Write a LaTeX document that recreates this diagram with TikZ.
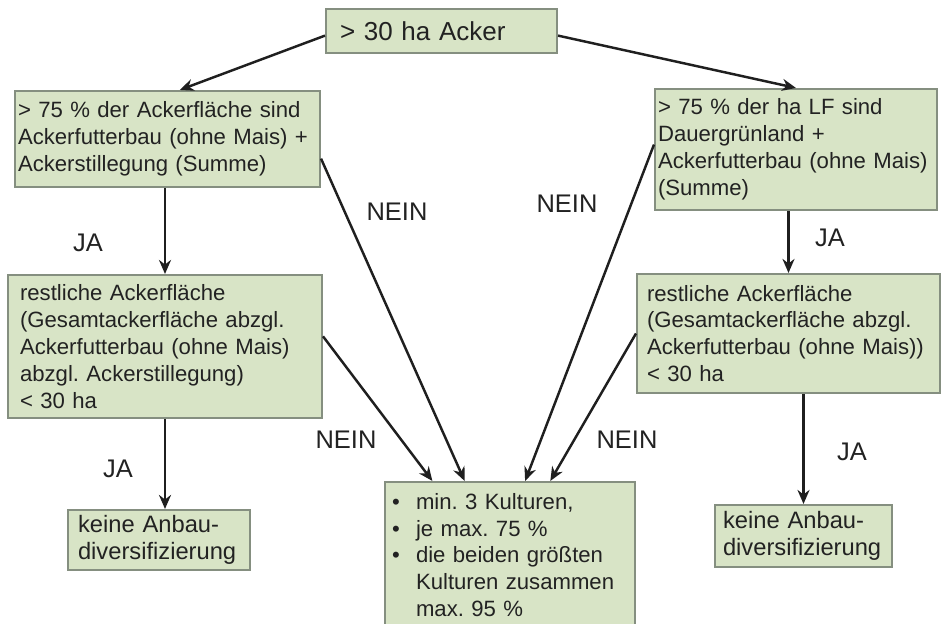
\documentclass[tikz,border=0pt]{standalone}
\usepackage{fontspec}
\setmainfont{Liberation Sans}
\usepackage{tikz}
\usetikzlibrary{arrows.meta,calc}
\definecolor{feld}{HTML}{D8E4C6}
\definecolor{rand}{HTML}{858F80}
\definecolor{schrift}{HTML}{222222}
\frenchspacing

\begin{document}
\begin{tikzpicture}[x=0.02cm,y=-0.02cm,
  kasten/.style={draw=rand,fill=feld,line width=1.2pt,align=left,text=schrift,inner ysep=0pt,inner xsep=0.06cm,font=\fontsize{12.6}{15.3}\selectfont},
  pfeil/.style={-{Stealth[length=0.28cm,width=0.24cm]},line width=1.4pt,draw=black!88},
  antwort/.style={font=\fontsize{14.5}{17}\selectfont,text=schrift}]
  \fill[white] (0,0) rectangle (944,623);
  \useasboundingbox (0,0) rectangle (944,623);
  \clip (0,0) rectangle (944,623);

  \node[kasten,font=\fontsize{14.8}{17}\selectfont,inner xsep=0.28cm,text width=4.06cm,minimum height=0.88cm] (acker) at (441.5,31) {> 30 ha Acker};

  \node[kasten,text width=5.98cm,minimum height=1.92cm] (links1) at (167.5,139) {> 75 \% der Ackerfläche sind\\Ackerfutterbau (ohne Mais) +\\Ackerstillegung (Summe)};
  \node[kasten,text width=5.52cm,minimum height=2.42cm] (rechts1) at (796,149.5) {> 75 \% der ha LF sind\\Dauergrünland +\\Ackerfutterbau (ohne Mais)\\(Summe)};

  \node[kasten,inner xsep=0.24cm,text width=5.8cm,minimum height=2.86cm] (links2) at (165,346.5) {restliche Ackerfläche\\(Gesamtackerfläche abzgl.\\Ackerfutterbau (ohne Mais)\\abzgl. Ackerstillegung)\\< 30 ha};
  \node[kasten,inner xsep=0.2cm,text width=5.66cm,minimum height=2.38cm] (rechts2) at (788.5,333.5) {restliche Ackerfläche\\(Gesamtackerfläche abzgl.\\Ackerfutterbau (ohne Mais))\\< 30 ha};

  \node[kasten,font=\fontsize{13.5}{15.5}\selectfont,inner xsep=0.2cm,text width=3.24cm,minimum height=1.2cm] (keine1) at (159,540) {keine Anbau-\\diversifizierung};
  \node[kasten,font=\fontsize{13.5}{15.5}\selectfont,inner xsep=0.16cm,text width=3.22cm,minimum height=1.24cm] (keine2) at (803.5,536) {keine Anbau-\\diversifizierung};
  \node[kasten,inner xsep=0.14cm,text width=4.72cm,minimum height=2.92cm] (kulturen) at (510,555) {\makebox[0.48cm][l]{\textbullet}min. 3 Kulturen,\\\makebox[0.48cm][l]{\textbullet}je max. 75 \%\\\makebox[0.48cm][l]{\textbullet}die beiden größten\\\hspace*{0.48cm}Kulturen zusammen\\\hspace*{0.48cm}max. 95 \%};

  \draw[pfeil] ($(acker.north west)!0.6!(acker.south west)$) -- ($(links1.north west)!0.54!(links1.north east)$);
  \draw[pfeil] ($(acker.north east)!0.6!(acker.south east)$) -- (rechts1.north);
  \draw[pfeil] (links1.south -| links2.north) -- (links2.north);
  \draw[pfeil] (rechts1.south -| rechts2.north) -- (rechts2.north);
  \draw[pfeil] ($(links1.north east)!0.7!(links1.south east)$) -- ($(kulturen.north west)!0.32!(kulturen.north east)$);
  \draw[pfeil] ($(rechts1.north west)!0.46!(rechts1.south west)$) -- ($(kulturen.north west)!0.56!(kulturen.north east)$);
  \draw[pfeil] ($(links2.north east)!0.43!(links2.south east)$) -- ($(kulturen.north west)!0.192!(kulturen.north east)$);
  \draw[pfeil] (rechts2.west) -- ($(kulturen.north west)!0.66!(kulturen.north east)$);
  \draw[pfeil] (links2.south) -- (links2.south |- keine1.north);
  \draw[pfeil] (rechts2.south -| keine2.north) -- (keine2.north);

  \node[antwort] (ja1) at (88,243) {JA};
  \node[antwort] (ja2) at (830,238) {JA};
  \node[antwort] (ja3) at (118,469) {JA};
  \node[antwort] (ja4) at (852,452) {JA};
  \node[antwort] (nein1) at (397,212) {NEIN};
  \node[antwort] (nein2) at (567,204) {NEIN};
  \node[antwort] (nein3) at (346,440) {NEIN};
  \node[antwort] (nein4) at (627,440) {NEIN};
\end{tikzpicture}
\end{document}
